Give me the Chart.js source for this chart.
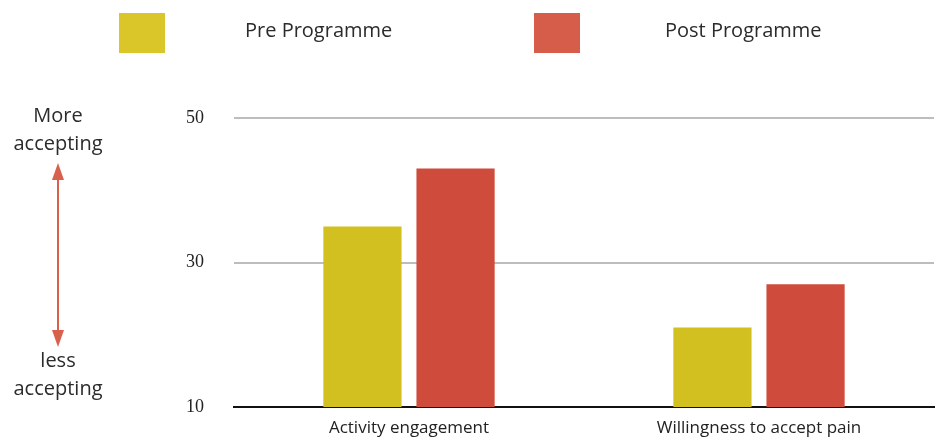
<!DOCTYPE html>
<html>
<head>
<meta charset="utf-8">
<script src="https://cdn.jsdelivr.net/npm/chart.js@4"></script>
<style>
  html, body { margin: 0; padding: 0; background: #fff; }
  canvas { display: block; }
</style>
</head>
<body>
<canvas id="chart" width="936" height="437"></canvas>
<script>
const categories = ['Activity engagement', 'Willingness to accept pain'];
const preProgramme = [35, 21];
const postProgramme = [43, 27];
const seriesNames = ['Pre Programme', 'Post Programme'];
const yTicks = [10, 30, 50];

const barColors = ['#d2c020', '#cf4b3c'];
const keyColors = ['#dac629', '#d75d4b'];
const arrowColor = '#d9604c';
const sansFont = '"Open Sans", "DejaVu Sans", sans-serif';

// legend boxes + text drawn by hand, since the spacing is not chart.js default
const topLegend = {
    id: 'topLegend',
    afterDraw(chart) {
        const c = chart.ctx;
        const boxes = [{ x: 119, tx: 245 }, { x: 534, tx: 665 }];
        c.save();
        c.font = '20px ' + sansFont;
        c.textBaseline = 'middle';
        c.textAlign = 'left';
        boxes.forEach((b, i) => {
            c.fillStyle = keyColors[i];
            c.fillRect(b.x, 13, 46, 40);
            c.fillStyle = '#2b2b2b';
            c.fillText(seriesNames[i], b.tx, 31);
        });
        c.restore();
    }
};

// "More accepting" <-> "less accepting" note on the left
const sideNote = {
    id: 'sideNote',
    afterDraw(chart) {
        const c = chart.ctx;
        const x = 58;
        c.save();
        c.font = '20px ' + sansFont;
        c.fillStyle = '#2b2b2b';
        c.textAlign = 'center';
        c.textBaseline = 'middle';
        c.fillText('More', x, 116);
        c.fillText('accepting', x, 144);
        c.fillText('less', x, 361);
        c.fillText('accepting', x, 389);

        c.strokeStyle = arrowColor;
        c.fillStyle = arrowColor;
        c.lineWidth = 2;
        c.beginPath();
        c.moveTo(x, 172);
        c.lineTo(x, 338);
        c.stroke();
        c.beginPath();
        c.moveTo(x, 163); c.lineTo(x - 6, 180); c.lineTo(x + 6, 180); c.closePath();
        c.fill();
        c.beginPath();
        c.moveTo(x, 347); c.lineTo(x - 6, 330); c.lineTo(x + 6, 330); c.closePath();
        c.fill();
        c.restore();
    }
};

new Chart(document.getElementById('chart'), {
    type: 'bar',
    data: {
        labels: categories,
        datasets: [
            { label: seriesNames[0], data: preProgramme, backgroundColor: barColors[0] },
            { label: seriesNames[1], data: postProgramme, backgroundColor: barColors[1] }
        ]
    },
    options: {
        responsive: false,
        animation: false,
        categoryPercentage: 0.532,
        barPercentage: 0.84,
        layout: { padding: { top: 118, right: 2, left: 0, bottom: 0 } },
        plugins: { legend: { display: false }, tooltip: { enabled: false } },
        scales: {
            x: {
                afterFit(scale) { scale.height = 30; },
                grid: { display: false, drawTicks: false },
                border: { display: true, color: '#111', width: 2 },
                ticks: {
                    padding: 11,
                    color: '#222',
                    font: { family: sansFont, size: 17 }
                }
            },
            y: {
                min: 10,
                max: 50,
                afterFit(scale) {
                    scale.width = 234;
                    // tick padding gets added to the vertical overflow too, undo that
                    scale.paddingTop = 11;
                    scale.paddingBottom = 11;
                },
                afterBuildTicks(scale) { scale.ticks = yTicks.map(v => ({ value: v })); },
                border: { display: false },
                grid: {
                    drawTicks: false,
                    color: ctx => ctx.tick && ctx.tick.value === 10 ? 'rgba(0,0,0,0)' : '#bdbdbd',
                    lineWidth: 2
                },
                ticks: {
                    padding: 30,
                    color: '#222',
                    font: { family: '"Liberation Serif", "DejaVu Serif", serif', size: 18 }
                }
            }
        }
    },
    plugins: [topLegend, sideNote]
});
</script>
</body>
</html>
